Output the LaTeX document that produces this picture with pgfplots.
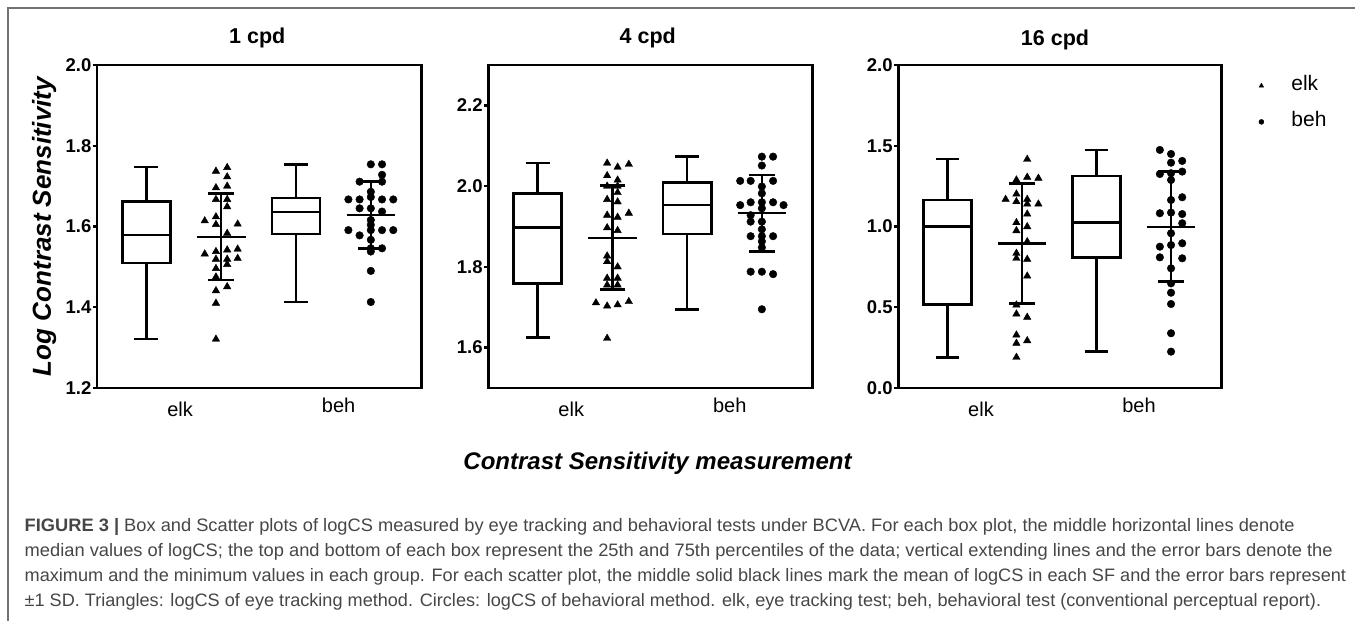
\documentclass[border=0pt]{standalone}
\usepackage{graphicx}
\usepackage{pgfplots}
\pgfplotsset{compat=1.18}
\usepgfplotslibrary{statistics}
\usepackage{fontspec}
\setmainfont{Liberation Sans}
\definecolor{capgray}{RGB}{70,70,70}
\definecolor{framegray}{RGB}{115,115,115}
\pgfplotsset{
  panel/.style={
    scale only axis, height=323pt,
    xmin=0.34, xmax=4.68,
    axis line style={line width=2.8pt, line cap=rect},
    tick align=outside, major tick length=4.5pt,
    ytick pos=left,
    xtick={1.45,3.57}, xticklabels={elk,\raisebox{4pt}{beh}},
    xtick style={draw=none},
    ytick style={line width=2.4pt, black},
    xticklabel style={font=\fontsize{20}{24}\selectfont, anchor=base, yshift=-24.5pt},
    yticklabel style={font=\bfseries\fontsize{18.5}{20}\selectfont, inner sep=1pt,
      /pgf/number format/fixed, /pgf/number format/fixed zerofill, /pgf/number format/precision=1},
    /pgf/number format/assume math mode=true,
    title style={font=\bfseries\fontsize{21.5}{24}\selectfont, anchor=base, yshift=0pt},
    boxplot/draw direction=y,
    clip=false,
  },
  bx/.style={black, line width=2.6pt, solid, mark=none, forget plot},
  ln/.style={black, line width=2.6pt, mark=none, forget plot},
  tri/.style={black, only marks, mark=triangle*, mark size=4.3pt, forget plot},
  dot/.style={black, only marks, mark=*, mark size=3.8pt, forget plot},
}
\begin{document}
\begin{tikzpicture}[x=1pt,y=1pt]
\useasboundingbox (0,0) rectangle (1355,621);
\draw[framegray, line width=1.8pt] (8,0) -- (8,613) -- (1355,613);

% ---------- Panel 1: 1 cpd ----------
\begin{axis}[panel, at={(97pt,233pt)}, anchor=south west, width=324.7pt,
  ymin=1.2, ymax=2.0, ytick={1.2,1.4,1.6,1.8,2.0},
  title={1 cpd},
  title style={at={(axis description cs:0.4935,1.0465)}},
  ylabel={Log Contrast Sensitivity},
  ylabel style={font=\bfseries\itshape\fontsize{26}{28}\selectfont, at={(axis description cs:-0.1418,0.5)}, anchor=base},
]
\addplot[bx, boxplot prepared={draw position=1, lower whisker=1.321, lower quartile=1.510, median=1.579, upper quartile=1.662, upper whisker=1.747, box extend=0.646, whisker extend=0.32}] coordinates {};
\addplot[bx, boxplot prepared={draw position=3, lower whisker=1.413, lower quartile=1.581, median=1.636, upper quartile=1.671, upper whisker=1.754, box extend=0.646, whisker extend=0.32}] coordinates {};
% elk scatter: mean and SD
\addplot[ln] coordinates {(1.675,1.574) (2.325,1.574)};
\addplot[ln] coordinates {(2,1.467) (2,1.681)};
\addplot[ln] coordinates {(1.83,1.681) (2.17,1.681)};
\addplot[ln] coordinates {(1.83,1.467) (2.17,1.467)};
\addplot[tri] coordinates {(1.93,1.737) (2.08,1.746) (2.08,1.723) (1.93,1.696) (2.08,1.700) (1.93,1.667) (2.08,1.667) (2.08,1.649) (1.78,1.614) (1.93,1.624) (2.22,1.606) (1.93,1.605) (2.08,1.583) (1.78,1.532) (1.93,1.538) (2.08,1.542) (2.22,1.544) (1.93,1.519) (2.08,1.519) (2.22,1.521) (1.93,1.496) (2.08,1.506) (1.93,1.475) (2.08,1.451) (1.93,1.441) (1.93,1.410) (1.93,1.321)};
% beh scatter
\addplot[ln] coordinates {(3.675,1.628) (4.325,1.628)};
\addplot[ln] coordinates {(4,1.546) (4,1.711)};
\addplot[ln] coordinates {(3.83,1.711) (4.17,1.711)};
\addplot[ln] coordinates {(3.83,1.546) (4.17,1.546)};
\addplot[dot] coordinates {(4,1.754) (4.15,1.754) (4.15,1.728) (3.85,1.711) (4.15,1.711) (4,1.686) (3.7,1.667) (3.85,1.667) (4,1.673) (4.15,1.667) (4.3,1.667) (3.85,1.645) (4,1.645) (4.15,1.637) (4,1.616) (4,1.604) (3.7,1.591) (4,1.591) (4.15,1.591) (4.3,1.591) (3.85,1.578) (4,1.567) (4,1.546) (4.15,1.546) (4,1.538) (4,1.490) (4,1.413)};
\end{axis}

% ---------- Panel 2: 4 cpd ----------
\begin{axis}[panel, at={(488.3pt,233pt)}, anchor=south west, width=324.4pt,
  ymin=1.5, ymax=2.3, ytick={1.6,1.8,2.0,2.2},
  title={4 cpd},
  title style={at={(axis description cs:0.4917,1.0465)}},
  xlabel={Contrast Sensitivity measurement},
  xlabel style={font=\bfseries\itshape\fontsize{24}{28}\selectfont, at={(axis description cs:0.5216,-0.2523)}, anchor=base},
]
\addplot[bx, boxplot prepared={draw position=1, lower whisker=1.625, lower quartile=1.759, median=1.898, upper quartile=1.982, upper whisker=2.057, box extend=0.646, whisker extend=0.32}] coordinates {};
\addplot[bx, boxplot prepared={draw position=3, lower whisker=1.695, lower quartile=1.881, median=1.953, upper quartile=2.009, upper whisker=2.073, box extend=0.646, whisker extend=0.32}] coordinates {};
\addplot[ln] coordinates {(1.675,1.872) (2.325,1.872)};
\addplot[ln] coordinates {(2,1.744) (2,2.001)};
\addplot[ln] coordinates {(1.83,2.001) (2.17,2.001)};
\addplot[ln] coordinates {(1.83,1.744) (2.17,1.744)};
\addplot[tri] coordinates {(1.93,2.057) (2.07,2.047) (2.22,2.054) (1.93,2.026) (2.07,2.015) (1.93,2.0) (2.07,2.0) (2.07,1.984) (1.93,1.967) (2.07,1.961) (2.22,1.933) (1.93,1.928) (2.07,1.923) (1.93,1.897) (2.07,1.890) (1.93,1.827) (1.93,1.813) (2.07,1.800) (1.93,1.772) (2.07,1.772) (1.93,1.755) (2.07,1.755) (1.78,1.711) (1.93,1.703) (2.07,1.706) (2.22,1.714) (1.93,1.623)};
\addplot[ln] coordinates {(3.675,1.933) (4.325,1.933)};
\addplot[ln] coordinates {(4,1.838) (4,2.028)};
\addplot[ln] coordinates {(3.83,2.028) (4.17,2.028)};
\addplot[ln] coordinates {(3.83,1.838) (4.17,1.838)};
\addplot[dot] coordinates {(4,2.073) (4.15,2.073) (4,2.051) (3.71,2.013) (3.85,2.013) (4.15,2.013) (4,1.999) (4,1.982) (3.71,1.953) (3.85,1.960) (4,1.960) (4.15,1.960) (4.29,1.953) (4,1.945) (3.85,1.928) (3.85,1.912) (4,1.912) (4,1.893) (3.85,1.876) (4,1.876) (4.15,1.876) (4,1.863) (4,1.848) (3.85,1.788) (4,1.788) (4.15,1.782) (4,1.695)};
\end{axis}

% ---------- Panel 3: 16 cpd ----------
\begin{axis}[panel, at={(898.3pt,233pt)}, anchor=south west, width=323.4pt,
  ymin=0, ymax=2, ytick={0,0.5,1,1.5,2},
  title={16 cpd},
  title style={at={(axis description cs:0.4845,1.0403)}},
  legend style={at={(axis description cs:1.1144,0.9669)}, anchor=north west, draw=none, fill=none,
    inner sep=0pt, font=\fontsize{21}{24}\selectfont, row sep=16pt, column sep=27.5pt,
    nodes={inner sep=0pt, text height=15pt, text depth=5pt}},
  legend cell align=left,
]
\addplot[bx, boxplot prepared={draw position=1, lower whisker=0.190, lower quartile=0.518, median=0.999, upper quartile=1.164, upper whisker=1.418, box extend=0.646, whisker extend=0.32}] coordinates {};
\addplot[bx, boxplot prepared={draw position=3, lower whisker=0.225, lower quartile=0.809, median=1.024, upper quartile=1.313, upper whisker=1.474, box extend=0.646, whisker extend=0.32}] coordinates {};
\addplot[ln] coordinates {(1.675,0.896) (2.325,0.896)};
\addplot[ln] coordinates {(2,0.524) (2,1.267)};
\addplot[ln] coordinates {(1.83,1.267) (2.17,1.267)};
\addplot[ln] coordinates {(1.83,0.524) (2.17,0.524)};
\addplot[tri] coordinates {(2.07,1.416) (1.925,1.288) (2.07,1.305) (2.22,1.299) (1.78,1.168) (1.925,1.201) (1.925,1.154) (2.07,1.168) (2.07,1.139) (2.22,1.139) (2.07,1.077) (1.925,1.024) (1.925,0.974) (2.07,0.999) (2.07,0.906) (1.925,0.834) (1.925,0.803) (2.07,0.797) (2.07,0.693) (1.925,0.514) (1.925,0.458) (2.07,0.438) (1.925,0.328) (1.925,0.277) (2.07,0.293) (1.925,0.190)};
\addplot[ln] coordinates {(3.675,0.997) (4.325,0.997)};
\addplot[ln] coordinates {(4,0.658) (4,1.339)};
\addplot[ln] coordinates {(3.83,1.339) (4.17,1.339)};
\addplot[ln] coordinates {(3.83,0.658) (4.17,0.658)};
\addplot[dot] coordinates {(3.85,1.474) (4,1.449) (4,1.395) (4.15,1.406) (3.85,1.325) (4,1.33) (4.15,1.340) (4,1.288) (4,1.164) (4.15,1.181) (3.85,1.082) (4,1.086) (4.15,1.077) (4.15,1.020) (4,0.958) (3.85,0.875) (4,0.885) (4.15,0.896) (3.85,0.809) (4.15,0.803) (4,0.741) (4,0.648) (4,0.590) (4,0.520) (4,0.339) (4,0.225)};
\addlegendimage{black, only marks, mark=triangle*, mark size=2.7pt}
\addlegendentry{elk}
\addlegendimage{black, only marks, mark=*, mark size=2.5pt}
\addlegendentry{beh}
\end{axis}

% ---------- Caption ----------
\begin{scope}[every node/.style={anchor=base west, inner sep=0pt, text=capgray, font=\fontsize{18}{20}\selectfont}]
\node at (24.5,89.5) {\resizebox{1270pt}{\height}{\textbf{FIGURE 3 |} Box and Scatter plots of logCS measured by eye tracking and behavioral tests under BCVA. For each box plot, the middle horizontal lines denote}};
\node at (24.5,64.5) {\resizebox{1308pt}{\height}{median values of logCS; the top and bottom of each box represent the 25th and 75th percentiles of the data; vertical extending lines and the error bars denote the}};
\node at (24.5,39.5) {\resizebox{1321.5pt}{\height}{maximum and the minimum values in each group. For each scatter plot, the middle solid black lines mark the mean of logCS in each SF and the error bars represent}};
\node at (24.5,14.5) {\resizebox{1296.5pt}{\height}{±1 SD. Triangles: logCS of eye tracking method. Circles: logCS of behavioral method. elk, eye tracking test; beh, behavioral test (conventional perceptual report).}};
\end{scope}
\end{tikzpicture}
\end{document}
